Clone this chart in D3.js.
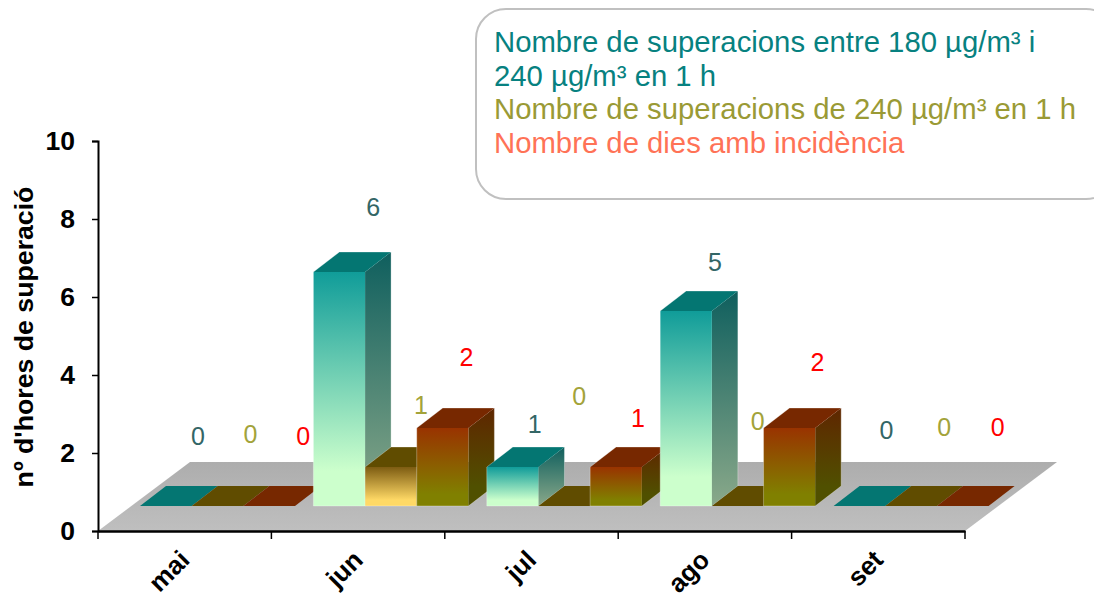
<!DOCTYPE html>
<html>
<head>
<meta charset="utf-8">
<script src="https://cdn.jsdelivr.net/npm/d3@7"></script>
<style>
body { margin: 0; background: #fff; overflow: hidden; }
text { font-family: "Liberation Sans", Arial, sans-serif; }
</style>
</head>
<body>
<div id="chart"></div>
<script>
// data
var months = ["mai", "jun", "jul", "ago", "set"];
var seriesNames = ["Nombre de superacions entre 180 µg/m³ i 240 µg/m³ en 1 h", "Nombre de superacions de 240 µg/m³ en 1 h", "Nombre de dies amb incidència"];
var between180and240 = [0, 6, 1, 5, 0];
var over240 = [0, 1, 0, 0, 0];
var daysWithIncidence = [0, 2, 1, 2, 0];
var yTicks = [0, 2, 4, 6, 8, 10];

var svgWidth = 1094;
var svgHeight = 598;
var values = [between180and240, over240, daysWithIncidence];

// hand placed labels in the original, offset from front top centre of each bar
var labelNudge = [
    [[32, -70], [33, -72], [34, -70]],
    [[34, -65], [30, -62], [24, -71]],
    [[22, -43], [15, -110], [22, -49]],
    [[29, -49], [20, -85], [28, -66]],
    [[27, -76], [33, -79], [35, -79]]
];

var skin = [
    { front: ["#109c99", "#ccffcc"], stop: "85%", side: ["#0f5f5e", "#8aa98a"], sideStop: "100%", top: "#047672", label: "#336666", legend: "#078180" },
    { front: ["#7d5c12", "#ffd966"], stop: "85%", side: ["#604c00", "#604c00"], sideStop: "100%", top: "#604c00", label: "#a3a33a", legend: "#9a9a35" },
    { front: ["#993300", "#808000"], stop: "85%", side: ["#5f2600", "#505000"], sideStop: "80%", top: "#772800", label: "#ff0000", legend: "#ff7256" }
];

var svg = d3.select("#chart").append("svg")
    .attr("width", svgWidth)
    .attr("height", svgHeight);

var xScale = d3.scaleBand().domain(months).range([98, 965]);
var yScale = d3.scaleLinear().domain([0, 10]).range([531, 141]);
// position of the bars inside one month
var barScale = d3.scaleBand().domain([0, 1, 2]).range([42, 197]);

var floorDepth = { x: 92, y: -69 };
var barDepth = { x: 26, y: -20 };
var barBase = 25; // front of bars sits this far up the floor

// gradients
var defs = svg.append("defs");
function gradient(id, c0, c1, stop) {
    var g = defs.append("linearGradient").attr("id", id)
        .attr("x1", 0).attr("y1", 0).attr("x2", 0).attr("y2", 1);
    g.append("stop").attr("offset", "0%").attr("stop-color", c0);
    g.append("stop").attr("offset", stop).attr("stop-color", c1);
}
skin.forEach(function(s, i) {
    gradient("front" + i, s.front[0], s.front[1], s.stop);
    gradient("side" + i, s.side[0], s.side[1], s.sideStop);
});
gradient("floor", "#adadad", "#bfbfbf", "100%");

function poly(points) {
    return points.map(function(p) { return p.join(","); }).join(" ");
}

// floor
var x0 = xScale.range()[0], x1 = xScale.range()[1], y0 = yScale(0);
svg.append("polygon")
    .attr("points", poly([[x0, y0], [x1, y0], [x1 + floorDepth.x, y0 + floorDepth.y], [x0 + floorDepth.x, y0 + floorDepth.y]]))
    .attr("fill", "url(#floor)");

// bars, left to right so nearer faces cover the ones behind
var bars = [];
months.forEach(function(m, mi) {
    values.forEach(function(v, si) {
        bars.push({ month: m, mi: mi, si: si, value: v[mi] });
    });
});

var barGroup = svg.selectAll(".bar").data(bars).enter().append("g").attr("class", "bar");

barGroup.each(function(d) {
    var g = d3.select(this);
    var l = xScale(d.month) + barScale(d.si);
    var r = l + barScale.bandwidth();
    var bottom = yScale(0) - barBase;
    var top = yScale(d.value) - barBase;
    var dx = barDepth.x, dy = barDepth.y;
    if (d.value > 0) {
        g.append("polygon")
            .attr("points", poly([[r, bottom], [r + dx, bottom + dy], [r + dx, top + dy], [r, top]]))
            .attr("fill", "url(#side" + d.si + ")");
        g.append("rect")
            .attr("x", l).attr("y", top)
            .attr("width", r - l).attr("height", bottom - top)
            .attr("fill", "url(#front" + d.si + ")");
    }
    g.append("polygon")
        .attr("points", poly([[l, top], [r, top], [r + dx, top + dy], [l + dx, top + dy]]))
        .attr("fill", skin[d.si].top);
    if (d.value > 0) {
        // faint pale edge round the bar
        g.append("polygon")
            .attr("points", poly([[l, bottom], [l, top], [l + dx, top + dy], [r + dx, top + dy], [r + dx, bottom + dy], [r, bottom]]))
            .attr("fill", "none")
            .attr("stroke", "#fff").attr("stroke-opacity", 0.3).attr("stroke-width", 1);
    }
});

// value labels
svg.selectAll(".val").data(bars).enter().append("text")
    .attr("class", "val")
    .attr("x", function(d) { return xScale(d.month) + barScale(d.si) + barScale.bandwidth() / 2 + labelNudge[d.mi][d.si][0]; })
    .attr("y", function(d) { return yScale(d.value) - barBase + labelNudge[d.mi][d.si][1]; })
    .attr("dy", "0.36em")
    .attr("text-anchor", "middle")
    .attr("font-size", 25)
    .attr("fill", function(d) { return skin[d.si].label; })
    .text(function(d) { return d.value; });

// axes
var yAxis = d3.axisLeft(yScale).tickValues(yTicks).tickSize(6).tickPadding(17);
var yG = svg.append("g").attr("transform", "translate(98,0)").call(yAxis);
yG.selectAll("text").attr("font-size", 26.5).attr("font-weight", "bold").attr("fill", "#000")
    .style("font-family", '"Liberation Sans", Arial, sans-serif');
yG.selectAll("line").attr("stroke", "#000").attr("stroke-width", 1.5);
yG.select(".domain").attr("stroke", "#000").attr("stroke-width", 2);

var xAxis = d3.axisBottom(xScale).tickSize(0).tickPadding(0).tickSizeOuter(0);
var xG = svg.append("g").attr("transform", "translate(0,531)").call(xAxis);
xG.select(".domain").attr("stroke", "#000").attr("stroke-width", 2.5);
xG.selectAll("text")
    .attr("font-size", 26).attr("font-weight", "bold").attr("fill", "#000")
    .style("font-family", '"Liberation Sans", Arial, sans-serif')
    .attr("text-anchor", "end").attr("x", 0).attr("y", 0).attr("dy", "0.35em")
    .attr("transform", "translate(0,24) rotate(-45)");

// month boundaries get the ticks
xG.selectAll(".bound")
    .data(months.concat(["end"])).enter().append("line")
    .attr("x1", function(d, i) { return x0 + i * xScale.bandwidth(); })
    .attr("x2", function(d, i) { return x0 + i * xScale.bandwidth(); })
    .attr("y1", 0).attr("y2", 8)
    .attr("stroke", "#000").attr("stroke-width", 1.5);

svg.append("text")
    .attr("transform", "translate(33,337) rotate(-90)")
    .attr("text-anchor", "middle")
    .attr("font-size", 26.7)
    .attr("font-weight", "bold")
    .text("nº d'hores de superació");

// legend box
svg.append("rect")
    .attr("x", 476).attr("y", 9)
    .attr("width", 640).attr("height", 190)
    .attr("rx", 30).attr("ry", 30)
    .attr("fill", "#fff").attr("stroke", "#c0c0c0").attr("stroke-width", 2);

var legendLines = [
    { text: "Nombre de superacions entre 180 µg/m³ i", si: 0 },
    { text: "240 µg/m³ en 1 h", si: 0 },
    { text: seriesNames[1], si: 1 },
    { text: seriesNames[2], si: 2 }
];
svg.selectAll(".leg").data(legendLines).enter().append("text")
    .attr("class", "leg")
    .attr("x", 494)
    .attr("y", function(d, i) { return 52 + i * 33.7; })
    .attr("font-size", 29.3)
    .attr("fill", function(d) { return skin[d.si].legend; })
    .text(function(d) { return d.text; });
</script>
</body>
</html>
